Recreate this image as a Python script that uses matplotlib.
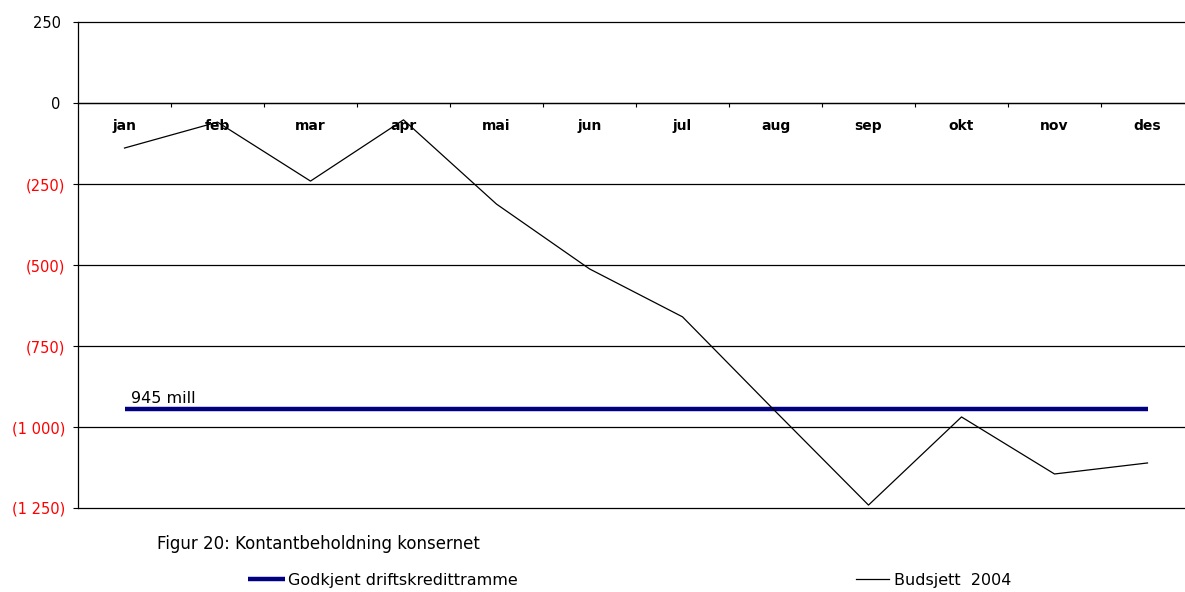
import matplotlib
matplotlib.use("Agg")
import matplotlib.pyplot as plt
from matplotlib.ticker import FixedLocator, NullFormatter

plt.rcParams['font.family'] = ['DejaVu Sans']

months = ["jan", "feb", "mar", "apr", "mai", "jun",
          "jul", "aug", "sep", "okt", "nov", "des"]
budsjett = [-139, -59, -241, -52, -312, -512,
            -660, -952, -1241, -969, -1145, -1111]
ramme = [-945] * 12
ytick_vals = [-1250, -1000, -750, -500, -250, 0, 250]
ytick_labels = ["(1 250)", "(1 000)", "(750)", "(500)", "(250)", "0 ", "250 "]

W, H = 1185, 592
fig = plt.figure(figsize=(W / 100, H / 100), dpi=100)
ax = fig.add_axes([78 / W, 1 - 508 / H, 1116 / W, 486 / H])

x = list(range(len(months)))
ax.plot(x, ramme, color="#000080", lw=3.2, solid_capstyle="butt", zorder=3,
        label="Godkjent driftskredittramme")
ax.plot(x, budsjett, color="black", lw=0.9, zorder=4, label="Budsjett  2004")
ax.annotate(f"{-ramme[0]} mill", xy=(0, ramme[0]), xytext=(4.5, 4.5),
            textcoords="offset points", fontsize=11.5, va="baseline", ha="left")

ax.set_xlim(-0.5, len(months) - 0.5)
ax.set_ylim(-1250, 250)

for s in ["top", "right"]:
    ax.spines[s].set_visible(False)
ax.spines["bottom"].set_position(("data", 0))
ax.spines["bottom"].set_linewidth(0.9)
ax.spines["left"].set_linewidth(0.9)

# ticks between months on the zero line, month names below it
ax.xaxis.set_major_locator(FixedLocator([i + 0.5 for i in range(len(months) - 1)]))
ax.xaxis.set_major_formatter(NullFormatter())
ax.xaxis.set_minor_locator(FixedLocator(x))
ax.set_xticklabels(months, minor=True, fontsize=10, fontweight="bold")
ax.tick_params(axis="x", which="major", direction="out", length=3, width=0.8)
ax.tick_params(axis="x", which="minor", length=0, pad=11.5)

ax.set_yticks(ytick_vals)
ax.set_yticklabels(ytick_labels, fontsize=10.5)
ax.tick_params(axis="y", direction="out", length=3.6, width=0.8, pad=5.5)
for lab, v in zip(ax.get_yticklabels(), ytick_vals):
    lab.set_color("#ff0000" if v < 0 else "black")

ax.yaxis.grid(True, color="black", lw=0.9)
for gl in ax.get_ygridlines():
    gl.set_clip_on(False)
ax.set_axisbelow(True)

fig.text(157 / W, 1 - 544 / H, "Figur 20: Kontantbeholdning konsernet",
         fontsize=12, va="center", ha="left")

h1, h2 = ax.get_lines()
fig.legend(handles=[h1], loc="center left", bbox_to_anchor=(248 / W, 1 - 580 / H),
           frameon=False, fontsize=11.5, borderpad=0, borderaxespad=0,
           handlelength=2.3, handletextpad=0.2)
fig.legend(handles=[h2], loc="center left", bbox_to_anchor=(856 / W, 1 - 580 / H),
           frameon=False, fontsize=11.5, borderpad=0, borderaxespad=0,
           handlelength=2.07, handletextpad=0.3)

fig.savefig("out.png", dpi=100)
